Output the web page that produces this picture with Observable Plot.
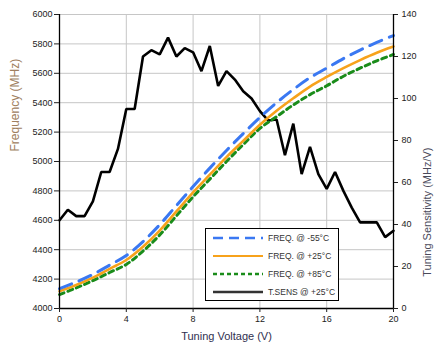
<!DOCTYPE html>
<html>
<head>
<meta charset="utf-8">
<script src="https://cdn.jsdelivr.net/npm/d3@7"></script>
<script src="https://cdn.jsdelivr.net/npm/@observablehq/plot@0.6"></script>
<style>
  html, body { margin: 0; padding: 0; background: #fff; }
  #wrap { position: relative; width: 435px; height: 349px; font-family: "Liberation Sans", Arial, sans-serif; }
  #legend { position: absolute; left: 205px; top: 228px; width: 134px; height: 73px; border: 1px solid #000; background: #fff; box-sizing: border-box; }
  .row { position: absolute; left: 0; height: 18px; display: flex; align-items: center; font-size: 8.5px; color: #333; white-space: nowrap; }
  .row svg { margin-left: 7px; margin-right: 5px; }
</style>
</head>
<body>
<div id="wrap"></div>
<script>
// Tuning voltage (V) for frequency curves
const volts = [0,1,2,3,4,5,6,7,8,9,10,11,12,13,14,15,16,17,18,19,20];
// Frequency (MHz) at -55°C, +25°C, +85°C
const freqM55 = [4135,4180,4232,4295,4360,4455,4570,4700,4830,4955,5075,5190,5300,5400,5490,5570,5635,5700,5758,5810,5857];
const freqP25 = [4118,4160,4210,4270,4330,4420,4530,4660,4790,4910,5030,5140,5250,5345,5430,5510,5575,5635,5690,5740,5782];
const freqP85 = [4095,4140,4190,4245,4300,4390,4500,4630,4760,4880,5000,5115,5225,5305,5385,5455,5515,5580,5635,5685,5728];
// Tuning sensitivity (MHz/V) at +25°C
const sensVolts = [0,0.5,1,1.5,2,2.5,3,3.5,4,4.5,5,5.5,6,6.5,7,7.5,8,8.5,9,9.5,10,10.5,11,11.5,12,12.5,13,13.5,14,14.5,15,15.5,16,16.5,17,17.5,18,18.5,19,19.5,20];
const sensVals  = [42,47,44,44,51,65,65,76,95,95,120,123,121,129,120,124,122,113,125,106,113,109,103.5,100,94,89.5,90,73,88,64,77,64,57,65,56,48,41,41,41,34,37];
// Axis ticks
const xTicks = [0,4,8,12,16,20];
const freqTicks = [4000,4200,4400,4600,4800,5000,5200,5400,5600,5800,6000];
const sensTicks = [0,20,40,60,80,100,120,140];
const seriesNames = ["FREQ. @ -55°C","FREQ. @ +25°C","FREQ. @ +85°C","T.SENS @ +25°C"];
const seriesColors = ["#3a78f2","#f7a21b","#1a8c1a","#000000"];

const fMin = 4000, fMax = 6000, sMax = 140;
const s2f = s => fMin + s * (fMax - fMin) / sMax;
const f2s = f => String(Math.round((f - fMin) * sMax / (fMax - fMin)));

const curve = (arr) => volts.map((v, i) => ({v, f: arr[i]}));
const sens = sensVolts.map((v, i) => ({v, s: sensVals[i]}));

const chart = Plot.plot({
  width: 435,
  height: 349,
  marginLeft: 59,
  marginRight: 42,
  marginTop: 14,
  marginBottom: 41,
  x: {domain: [0, 20]},
  y: {domain: [fMin, fMax]},
  style: {fontFamily: "Liberation Sans, Arial, sans-serif", fontSize: "9px", color: "#222", background: "#fff"},
  marks: [
    Plot.ruleX(xTicks.slice(1, -1), {stroke: "#c6c6c6", strokeWidth: 1}),
    Plot.ruleY(freqTicks.slice(1), {stroke: "#c6c6c6", strokeWidth: 1}),
    Plot.line(sens, {x: "v", y: d => s2f(d.s), stroke: seriesColors[3], strokeWidth: 2.6, strokeLinejoin: "miter"}),
    Plot.line(curve(freqP85), {x: "v", y: "f", stroke: seriesColors[2], strokeWidth: 3, strokeDasharray: "5,4", curve: "catmull-rom"}),
    Plot.line(curve(freqP25), {x: "v", y: "f", stroke: seriesColors[1], strokeWidth: 2.6, curve: "catmull-rom"}),
    Plot.line(curve(freqM55), {x: "v", y: "f", stroke: seriesColors[0], strokeWidth: 3, strokeDasharray: "13,8", curve: "catmull-rom"}),
    Plot.ruleX([0, 20], {stroke: "#000", strokeWidth: 1.3}),
    Plot.ruleY([fMin], {stroke: "#000", strokeWidth: 1.3}),
    Plot.axisX(xTicks, {tickSize: 4, tickPadding: 3, label: null, fill: "#222", tickFormat: d => String(d)}),
    Plot.axisY(freqTicks, {anchor: "left", tickSize: 5, tickPadding: 2, label: null, fill: "#222", tickFormat: d => String(d)}),
    Plot.axisY(sensTicks.map(s2f), {anchor: "right", tickSize: 4, tickPadding: 4, label: null, tickFormat: f2s, fill: "#222"}),
    Plot.text(["Tuning Voltage (V)"], {frameAnchor: "bottom", dy: 31, fontSize: 11, fill: "#303050"}),
    Plot.text(["Frequency (MHz)"], {frameAnchor: "left", dx: -44, dy: -10, rotate: -90, fontSize: 12, fill: "#a08060"}),
    Plot.text(["Tuning Sensitivity (MHz/V)"], {frameAnchor: "right", dx: 34, dy: -14, rotate: -90, fontSize: 11, fill: "#4a4a5a"})
  ]
});
document.getElementById("wrap").appendChild(chart);

// Legend
const legend = document.createElement("div");
legend.id = "legend";
const dashes = ["10,6", null, "4,3", null];
const widths = [2.5, 2, 2.5, 2.5];
seriesNames.forEach((name, i) => {
  const row = document.createElement("div");
  row.className = "row";
  row.style.top = (i * 18) + "px";
  const ns = "http://www.w3.org/2000/svg";
  const svg = document.createElementNS(ns, "svg");
  svg.setAttribute("width", "50");
  svg.setAttribute("height", "6");
  const ln = document.createElementNS(ns, "line");
  ln.setAttribute("x1", "0"); ln.setAttribute("x2", "50");
  ln.setAttribute("y1", "3"); ln.setAttribute("y2", "3");
  ln.setAttribute("stroke", seriesColors[i] === "#000000" ? "#333" : seriesColors[i]);
  ln.setAttribute("stroke-width", widths[i]);
  if (dashes[i]) ln.setAttribute("stroke-dasharray", dashes[i]);
  svg.appendChild(ln);
  row.appendChild(svg);
  const span = document.createElement("span");
  span.textContent = name;
  row.appendChild(span);
  legend.appendChild(row);
});
document.getElementById("wrap").appendChild(legend);
</script>
</body>
</html>
